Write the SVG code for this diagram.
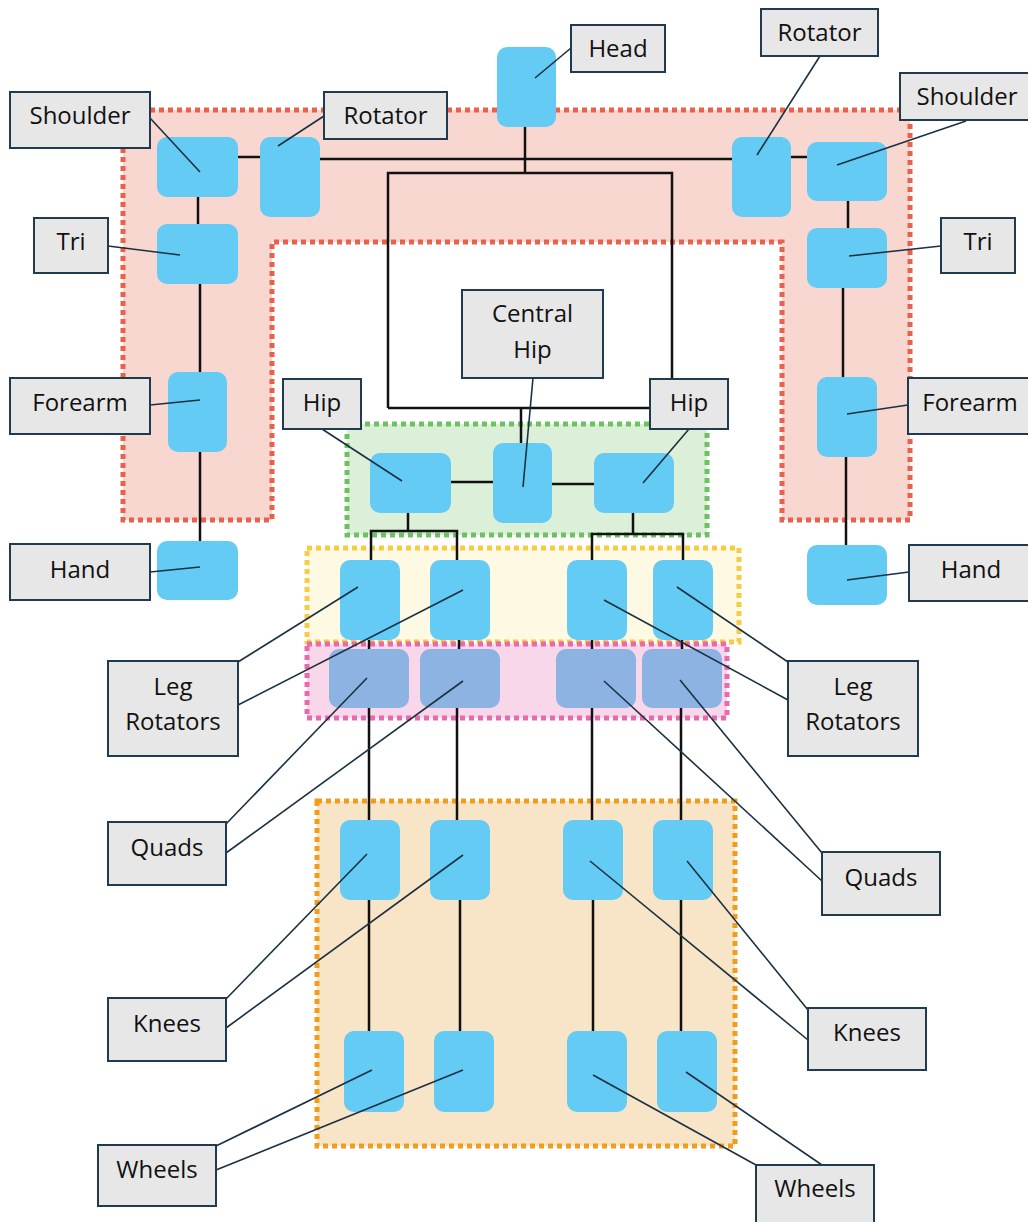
<svg xmlns="http://www.w3.org/2000/svg" width="1028" height="1222" viewBox="0 0 1028 1222">
<style>
.rg{stroke-width:5;stroke-dasharray:5 4}
.n{fill:#63cbf4}
.q{fill:#8db3e2}
.c{stroke:#111;stroke-width:2.5;fill:none}
.ld{stroke:#1b3142;stroke-width:1.6;fill:none}
.lb rect{fill:#e7e7e7;stroke:#1f3b4d;stroke-width:2}
.lb text{font-family:"Open Sans","Liberation Sans",sans-serif;font-size:24px;fill:#111;text-anchor:middle}
</style>
<rect width="1028" height="1222" fill="#fff"/>
<g id="regions">
<path id="arms-region" class="rg" d="M123,110 H910 V520 H782 V242 H272 V520 H123 Z" fill="#f9d7d1" stroke="#e9604d"/>
<rect id="hip-region" class="rg" x="347" y="424" width="360" height="111" fill="#dcefd8" stroke="#6cc160"/>
<rect id="legrot-region" class="rg" x="307" y="548" width="432" height="94" fill="#fdf9e2" stroke="#f6cc45"/>
<rect id="quad-region" class="rg" x="307" y="644" width="420" height="74" fill="#f9d7ea" stroke="#ea68ad"/>
<rect id="knee-region" class="rg" x="317" y="801" width="418" height="345" fill="#f8e4c6" stroke="#f29c1c"/>
</g>
<g id="connectors">
<path class="c" d="M238,157 H260"/>
<path class="c" d="M320,159 H732"/>
<path class="c" d="M791,157 H807"/>
<path class="c" d="M525,127 V173"/>
<path class="c" d="M388,408 V173 H672 V408 H388"/>
<path class="c" d="M521,408 V443"/>
<path class="c" d="M198,197 V224"/>
<path class="c" d="M200,284 V372"/>
<path class="c" d="M200,452 V541"/>
<path class="c" d="M848,201 V228"/>
<path class="c" d="M843,288 V377"/>
<path class="c" d="M846,457 V545"/>
<path class="c" d="M451,482 H493"/>
<path class="c" d="M552,484 H594"/>
<path class="c" d="M408,513 V531 M371,560 V531 H457 V560"/>
<path class="c" d="M633,513 V534 M592,560 V534 H683 V560"/>
<path class="c" d="M369,640 V649 M369,708 V820 M369,900 V1031"/>
<path class="c" d="M459,640 V649 M457,708 V820 M460,900 V1031"/>
<path class="c" d="M592,640 V649 M592,708 V820 M593,900 V1031"/>
<path class="c" d="M682,640 V649 M681,708 V820 M681,900 V1031"/>
</g>
<g id="nodes">
<rect id="head" class="n" x="497" y="47" width="59" height="80" rx="10"/>
<rect id="l-shoulder" class="n" x="157" y="137" width="81" height="60" rx="10"/>
<rect id="l-rotator" class="n" x="260" y="137" width="60" height="80" rx="10"/>
<rect id="r-rotator" class="n" x="732" y="137" width="59" height="80" rx="10"/>
<rect id="r-shoulder" class="n" x="807" y="142" width="80" height="59" rx="10"/>
<rect id="l-tri" class="n" x="157" y="224" width="81" height="60" rx="10"/>
<rect id="r-tri" class="n" x="807" y="228" width="80" height="60" rx="10"/>
<rect id="l-forearm" class="n" x="168" y="372" width="59" height="80" rx="10"/>
<rect id="r-forearm" class="n" x="817" y="377" width="60" height="80" rx="10"/>
<rect id="l-hand" class="n" x="157" y="541" width="81" height="59" rx="10"/>
<rect id="r-hand" class="n" x="807" y="545" width="80" height="60" rx="10"/>
<rect id="l-hip" class="n" x="370" y="453" width="81" height="60" rx="10"/>
<rect id="c-hip" class="n" x="493" y="443" width="59" height="80" rx="10"/>
<rect id="r-hip" class="n" x="594" y="453" width="80" height="60" rx="10"/>
<rect id="legrot1" class="n" x="340" y="560" width="60" height="80" rx="10"/>
<rect id="legrot2" class="n" x="430" y="560" width="60" height="80" rx="10"/>
<rect id="legrot3" class="n" x="567" y="560" width="60" height="80" rx="10"/>
<rect id="legrot4" class="n" x="653" y="560" width="60" height="80" rx="10"/>
<rect id="quad1" class="q" x="329" y="649" width="80" height="59" rx="10"/>
<rect id="quad2" class="q" x="420" y="649" width="80" height="59" rx="10"/>
<rect id="quad3" class="q" x="556" y="649" width="80" height="59" rx="10"/>
<rect id="quad4" class="q" x="642" y="649" width="80" height="59" rx="10"/>
<rect id="knee1" class="n" x="340" y="820" width="60" height="80" rx="10"/>
<rect id="knee2" class="n" x="430" y="820" width="60" height="80" rx="10"/>
<rect id="knee3" class="n" x="563" y="820" width="60" height="80" rx="10"/>
<rect id="knee4" class="n" x="653" y="820" width="60" height="80" rx="10"/>
<rect id="wheel1" class="n" x="344" y="1031" width="60" height="81" rx="10"/>
<rect id="wheel2" class="n" x="434" y="1031" width="60" height="81" rx="10"/>
<rect id="wheel3" class="n" x="567" y="1031" width="60" height="81" rx="10"/>
<rect id="wheel4" class="n" x="657" y="1031" width="60" height="81" rx="10"/>
</g>
<g id="leaders">
<path class="ld" d="M571,48 L535,78"/>
<path class="ld" d="M820,56 L757,155"/>
<path class="ld" d="M966,121 L837,165"/>
<path class="ld" d="M150,118 L200,172"/>
<path class="ld" d="M324,116 L278,146"/>
<path class="ld" d="M108,246 L180,255"/>
<path class="ld" d="M150,405 L200,400"/>
<path class="ld" d="M150,572 L200,567"/>
<path class="ld" d="M941,246 L849,256"/>
<path class="ld" d="M908,405 L847,414"/>
<path class="ld" d="M909,572 L847,580"/>
<path class="ld" d="M533,378 L523,487"/>
<path class="ld" d="M322,429 L402,481"/>
<path class="ld" d="M689,429 L643,483"/>
<path class="ld" d="M238,662 L358,587 M238,705 L463,590"/>
<path class="ld" d="M226,824 L367,678 M226,853 L463,681"/>
<path class="ld" d="M226,999 L367,854 M226,1028 L463,855"/>
<path class="ld" d="M216,1146 L372,1070 M216,1170 L463,1070"/>
<path class="ld" d="M788,662 L677,587 M788,700 L604,600"/>
<path class="ld" d="M822,853 L680,680 M822,881 L604,681"/>
<path class="ld" d="M808,1010 L687,861 M808,1040 L590,861"/>
<path class="ld" d="M756,1165 L593,1075 M822,1165 L686,1072"/>
</g>
<g id="labels">
<g id="lb-head" class="lb"><rect x="571" y="25" width="94" height="47"/><text x="618" y="57">Head</text></g>
<g id="lb-r-rotator" class="lb"><rect x="761" y="9" width="117" height="47"/><text x="819.5" y="41">Rotator</text></g>
<g id="lb-r-shoulder" class="lb"><rect x="900" y="73" width="130" height="47"/><text x="967" y="105">Shoulder</text></g>
<g id="lb-l-shoulder" class="lb"><rect x="10" y="92" width="140" height="56"/><text x="80" y="124">Shoulder</text></g>
<g id="lb-l-rotator" class="lb"><rect x="324" y="92" width="123" height="47"/><text x="385.5" y="124">Rotator</text></g>
<g id="lb-l-tri" class="lb"><rect x="34" y="218" width="74" height="55"/><text x="71" y="250">Tri</text></g>
<g id="lb-r-tri" class="lb"><rect x="941" y="218" width="74" height="55"/><text x="978" y="250">Tri</text></g>
<g id="lb-l-forearm" class="lb"><rect x="10" y="378" width="140" height="56"/><text x="80" y="411">Forearm</text></g>
<g id="lb-r-forearm" class="lb"><rect x="908" y="378" width="122" height="56"/><text x="970" y="411">Forearm</text></g>
<g id="lb-l-hand" class="lb"><rect x="10" y="544" width="140" height="56"/><text x="80" y="578">Hand</text></g>
<g id="lb-r-hand" class="lb"><rect x="909" y="545" width="121" height="56"/><text x="971" y="578">Hand</text></g>
<g id="lb-c-hip" class="lb"><rect x="462" y="290" width="141" height="88"/><text x="532.5" y="322">Central</text><text x="532.5" y="358">Hip</text></g>
<g id="lb-l-hip" class="lb"><rect x="283" y="379" width="78" height="50"/><text x="322" y="411">Hip</text></g>
<g id="lb-r-hip" class="lb"><rect x="650" y="379" width="78" height="50"/><text x="689" y="411">Hip</text></g>
<g id="lb-l-legrot" class="lb"><rect x="108" y="661" width="130" height="95"/><text x="173" y="695">Leg</text><text x="173" y="730">Rotators</text></g>
<g id="lb-r-legrot" class="lb"><rect x="788" y="661" width="130" height="95"/><text x="853" y="695">Leg</text><text x="853" y="730">Rotators</text></g>
<g id="lb-l-quads" class="lb"><rect x="108" y="822" width="118" height="63"/><text x="167" y="856">Quads</text></g>
<g id="lb-r-quads" class="lb"><rect x="822" y="852" width="118" height="63"/><text x="881" y="886">Quads</text></g>
<g id="lb-l-knees" class="lb"><rect x="108" y="998" width="118" height="63"/><text x="167" y="1032">Knees</text></g>
<g id="lb-r-knees" class="lb"><rect x="808" y="1008" width="118" height="62"/><text x="867" y="1041">Knees</text></g>
<g id="lb-l-wheels" class="lb"><rect x="98" y="1145" width="118" height="61"/><text x="157" y="1178">Wheels</text></g>
<g id="lb-r-wheels" class="lb"><rect x="756" y="1165" width="118" height="62"/><text x="815" y="1197">Wheels</text></g>
</g>
</svg>
